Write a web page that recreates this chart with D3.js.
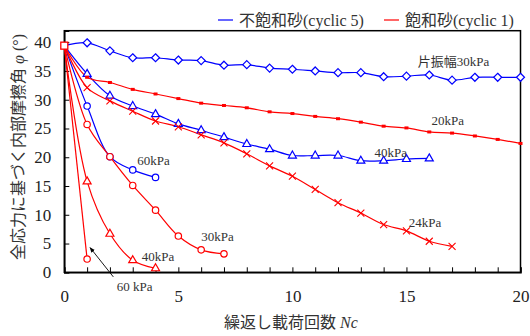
<!DOCTYPE html>
<meta charset="utf-8">
<script src="https://cdn.jsdelivr.net/npm/d3@7"></script>
<style>
body { margin: 0; background: #fff; }
text { font-family: "Liberation Serif", "Noto Sans CJK JP", serif; fill: #333; }
.tick text { font-size: 17px; fill: #222; }
.note { font-size: 13px; fill: #333; }
</style>
<body>
<script>

// cycle number = index in each array (0,1,2,...)
var unsat30 = [39.4, 39.9, 38.5, 37.3, 37.3, 36.9, 36.8, 36.0, 36.1, 35.5, 35.3, 35.0, 34.7, 34.7, 34.0, 34.1, 34.3, 33.4, 33.9, 33.9, 33.9]
var unsat40 = [39.4, 34.5, 30.7, 28.9, 27.5, 25.8, 24.7, 23.5, 22.3, 21.4, 20.3, 20.3, 20.3, 19.4, 19.4, 19.7, 19.8]
var unsat60 = [39.4, 28.9, 20.1, 17.8, 16.5]
var sat20 = [39.4, 33.9, 33.0, 31.8, 31.0, 30.2, 29.4, 29.0, 28.6, 27.9, 27.6, 27.1, 26.7, 26.1, 25.4, 25.1, 24.4, 24.2, 23.7, 23.1, 22.4]
var sat24 = [39.4, 32.1, 29.8, 28.0, 26.3, 25.3, 23.9, 22.5, 20.6, 18.5, 16.7, 14.4, 12.1, 10.3, 8.3, 7.2, 5.4, 4.5]
var sat30 = [39.4, 25.7, 20.1, 15.1, 10.8, 6.3, 3.9, 3.2]
var sat40 = [39.4, 15.8, 6.7, 2.1, 0.7]
var sat60 = [39.4, 2.3]

var xTicks = [0, 5, 10, 15, 20]
var yTicks = [0, 5, 10, 15, 20, 25, 30, 35, 40]
var legendNames = ['不飽和砂(cyclic 5)', '飽和砂(cyclic 1)']

var blue = '#0000ff', red = '#ff0000'

var series = [
  {vals: unsat30, color: blue, mark: 'diamond'},
  {vals: unsat40, color: blue, mark: 'triangle'},
  {vals: unsat60, color: blue, mark: 'circle'},
  {vals: sat20, color: red, mark: 'square'},
  {vals: sat24, color: red, mark: 'cross'},
  {vals: sat30, color: red, mark: 'circle'},
  {vals: sat40, color: red, mark: 'triangle'},
  {vals: sat60, color: red, mark: 'circle'}
]

// labels placed in data units [Nc, phi]
var notes = [
  {t: '片振幅30kPa', at: [15.5, 35.8]},
  {t: '20kPa', at: [16.1, 25.6]},
  {t: '40kPa', at: [13.6, 20.1]},
  {t: '24kPa', at: [15.1, 7.9]},
  {t: '60kPa', at: [3.2, 18.6]},
  {t: '30kPa', at: [6.0, 5.5]},
  {t: '40kPa', at: [3.4, 1.95]},
  {t: '60 kPa', at: [2.3, -3.2]}
]

var width = 530, height = 336
var svg = d3.select('body').append('svg').attr('width', width).attr('height', height)

var x = d3.scaleLinear().domain([0, 20]).range([64.3, 520.5])
var y = d3.scaleLinear().domain([0, 42]).range([272.3, 30.7])

// frame
svg.append('rect').attr('x', x(0)).attr('y', y(42)).attr('width', x(20) - x(0)).attr('height', y(0) - y(42))
   .attr('fill', 'none').attr('stroke', '#000').attr('stroke-width', 1.5)

var xAxis = svg.append('g').attr('transform', 'translate(0,' + y(0) + ')')
  .call(d3.axisBottom(x).tickValues(d3.range(0, 21)).tickSize(-5).tickPadding(14)
        .tickFormat(function(d) { return xTicks.indexOf(d) >= 0 ? d : ''; }))
xAxis.select('.domain').attr('stroke-width', 1.5)
xAxis.selectAll('.tick line').attr('stroke-width', 1)
xAxis.selectAll('.tick text').attr('dy', '0.95em')

var yAxis = svg.append('g').attr('transform', 'translate(' + x(0) + ',0)')
  .call(d3.axisLeft(y).tickValues(yTicks).tickSize(-5).tickPadding(13))
yAxis.select('.domain').attr('stroke-width', 1.5)
yAxis.selectAll('.tick line').attr('stroke-width', 1)

// lines
var line = d3.line().x(function(d, i) { return x(i); }).y(function(d) { return y(d); })
  .curve(d3.curveCatmullRom.alpha(0.5))

series.forEach(function(s) {
  svg.append('path').attr('d', line(s.vals)).attr('fill', 'none')
     .attr('stroke', s.color).attr('stroke-width', 1.2)
})

function marker(g, s, px, py) {
  var c = s.color
  if (s.mark == 'diamond') {
    g.append('path').attr('d', 'M' + px + ',' + (py - 4) + 'l4,4l-4,4l-4,-4z')
     .attr('fill', '#fff').attr('stroke', c).attr('stroke-width', 1.2)
  } else if (s.mark == 'triangle') {
    g.append('path').attr('d', 'M' + px + ',' + (py - 4.5) + 'l4,7l-8,0z')
     .attr('fill', '#fff').attr('stroke', c).attr('stroke-width', 1.2)
  } else if (s.mark == 'circle') {
    g.append('circle').attr('cx', px).attr('cy', py).attr('r', 3.2)
     .attr('fill', '#fff').attr('stroke', c).attr('stroke-width', 1.2)
  } else if (s.mark == 'square') {
    g.append('rect').attr('x', px - 2).attr('y', py - 1.5).attr('width', 4).attr('height', 3)
     .attr('fill', c)
  } else if (s.mark == 'cross') {
    g.append('path').attr('d', 'M' + (px - 3.5) + ',' + (py - 3.5) + 'l7,7M' + (px + 3.5) + ',' + (py - 3.5) + 'l-7,7')
     .attr('stroke', c).attr('stroke-width', 1.1)
  }
}

var mk = svg.append('g')
series.forEach(function(s) {
  s.vals.forEach(function(v, i) {
    if (i == 0) return
    marker(mk, s, x(i), y(v))
  })
})
// common starting point
mk.append('rect').attr('x', x(0) - 3.5).attr('y', y(sat20[0]) - 3.5).attr('width', 7).attr('height', 7)
  .attr('fill', '#fff').attr('stroke', red).attr('stroke-width', 1.3)

// annotations
notes.forEach(function(n) {
  svg.append('text').attr('class', 'note').attr('x', x(n.at[0])).attr('y', y(n.at[1])).text(n.t)
})

// arrow to the 60 kPa curve
svg.append('defs').append('marker').attr('id', 'ah').attr('viewBox', '0 0 10 10')
  .attr('refX', 9).attr('refY', 5).attr('markerWidth', 6).attr('markerHeight', 6).attr('orient', 'auto')
  .append('path').attr('d', 'M0,1L10,5L0,9z').attr('fill', '#000')
svg.append('line').attr('x1', x(2.15)).attr('y1', y(-0.8)).attr('x2', x(1.13)).attr('y2', y(4.3))
  .attr('stroke', '#000').attr('stroke-width', 0.9).attr('marker-end', 'url(#ah)')

// legend
var lg = svg.append('g').attr('transform', 'translate(0,20)')
;[[218, blue, legendNames[0]], [384, red, legendNames[1]]].forEach(function(l) {
  lg.append('line').attr('x1', l[0]).attr('x2', l[0] + 15).attr('y1', 0).attr('y2', 0)
    .attr('stroke', l[1]).attr('stroke-width', 1.2)
  lg.append('text').attr('x', l[0] + 21).attr('y', 6).style('font-size', '16px').text(l[2])
})

// axis titles
svg.append('text').attr('x', 291).attr('y', 328).attr('text-anchor', 'middle').style('font-size', '16px')
  .html('繰返し載荷回数 <tspan font-style="italic">Nc</tspan>')
svg.append('text').attr('transform', 'translate(24,147) rotate(-90)').attr('text-anchor', 'middle')
  .style('font-size', '16px')
  .html('全応力に基づく内部摩擦角 <tspan font-style="italic">φ</tspan> (°)')

</script>
</body>
